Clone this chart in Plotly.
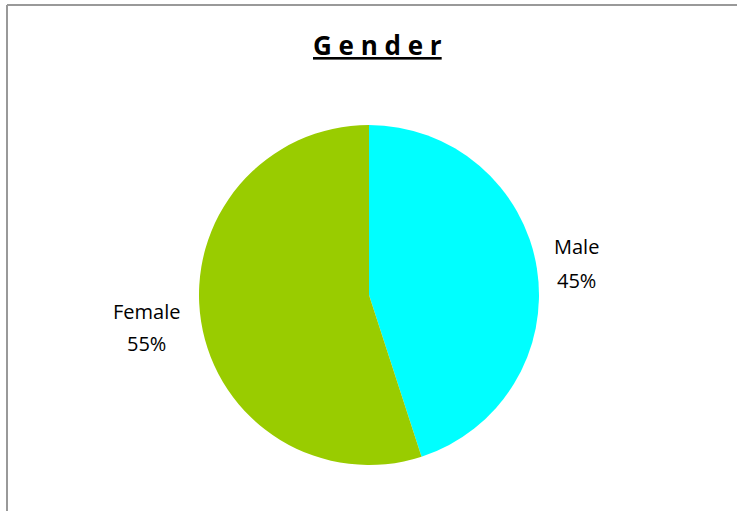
import plotly.graph_objects as go

labels = ["Male", "Female"]
values = [45, 55]
colors = ["#00FFFF", "#99CC00"]
title_text = "Gender"

W, H = 737, 511
FONT = "Open Sans, Lato, sans-serif"

fig = go.Figure(go.Pie(
    labels=labels,
    values=values,
    marker=dict(colors=colors, line=dict(width=0)),
    sort=False,
    direction="clockwise",
    rotation=0,
    textinfo="none",
    hoverinfo="label+percent",
    showlegend=False,
    domain=dict(x=[199 / W, 539 / W], y=[(H - 465) / H, (H - 125) / H]),
))

total = sum(values)
# (x center, y of name line, y of percent line) in pixels
label_pos = {"Male": (576, 246, 280), "Female": (146, 311, 343)}
annotations = []
for lab, val in zip(labels, values):
    px, py1, py2 = label_pos[lab]
    for txt, py in ((lab, py1), (f"{round(100 * val / total)}%", py2)):
        annotations.append(dict(
            x=px / W, y=1 - py / H, xref="paper", yref="paper",
            text=txt, showarrow=False, align="center",
            font=dict(family=FONT, size=20, color="#000000"),
            xanchor="center", yanchor="middle",
        ))
annotations.append(dict(
    x=377 / W, y=1 - 45 / H, xref="paper", yref="paper",
    text="<b><u>" + " ".join(title_text) + "</u></b>", showarrow=False,
    font=dict(family=FONT, size=26, color="#000000"),
    xanchor="center", yanchor="middle",
))

fig.update_layout(
    width=W, height=H,
    margin=dict(l=0, r=0, t=0, b=0),
    paper_bgcolor="white",
    plot_bgcolor="white",
    annotations=annotations,
    shapes=[
        dict(type="line", xref="paper", yref="paper", x0=7 / W, x1=1, y0=1 - 5 / H, y1=1 - 5 / H,
             line=dict(color="#999999", width=2)),
        dict(type="line", xref="paper", yref="paper", x0=7 / W, x1=7 / W, y0=0, y1=1 - 5 / H,
             line=dict(color="#999999", width=2)),
    ],
)

fig.write_html("out.html", config={"displayModeBar": False},
               post_script="document.body.style.margin='0px';")
